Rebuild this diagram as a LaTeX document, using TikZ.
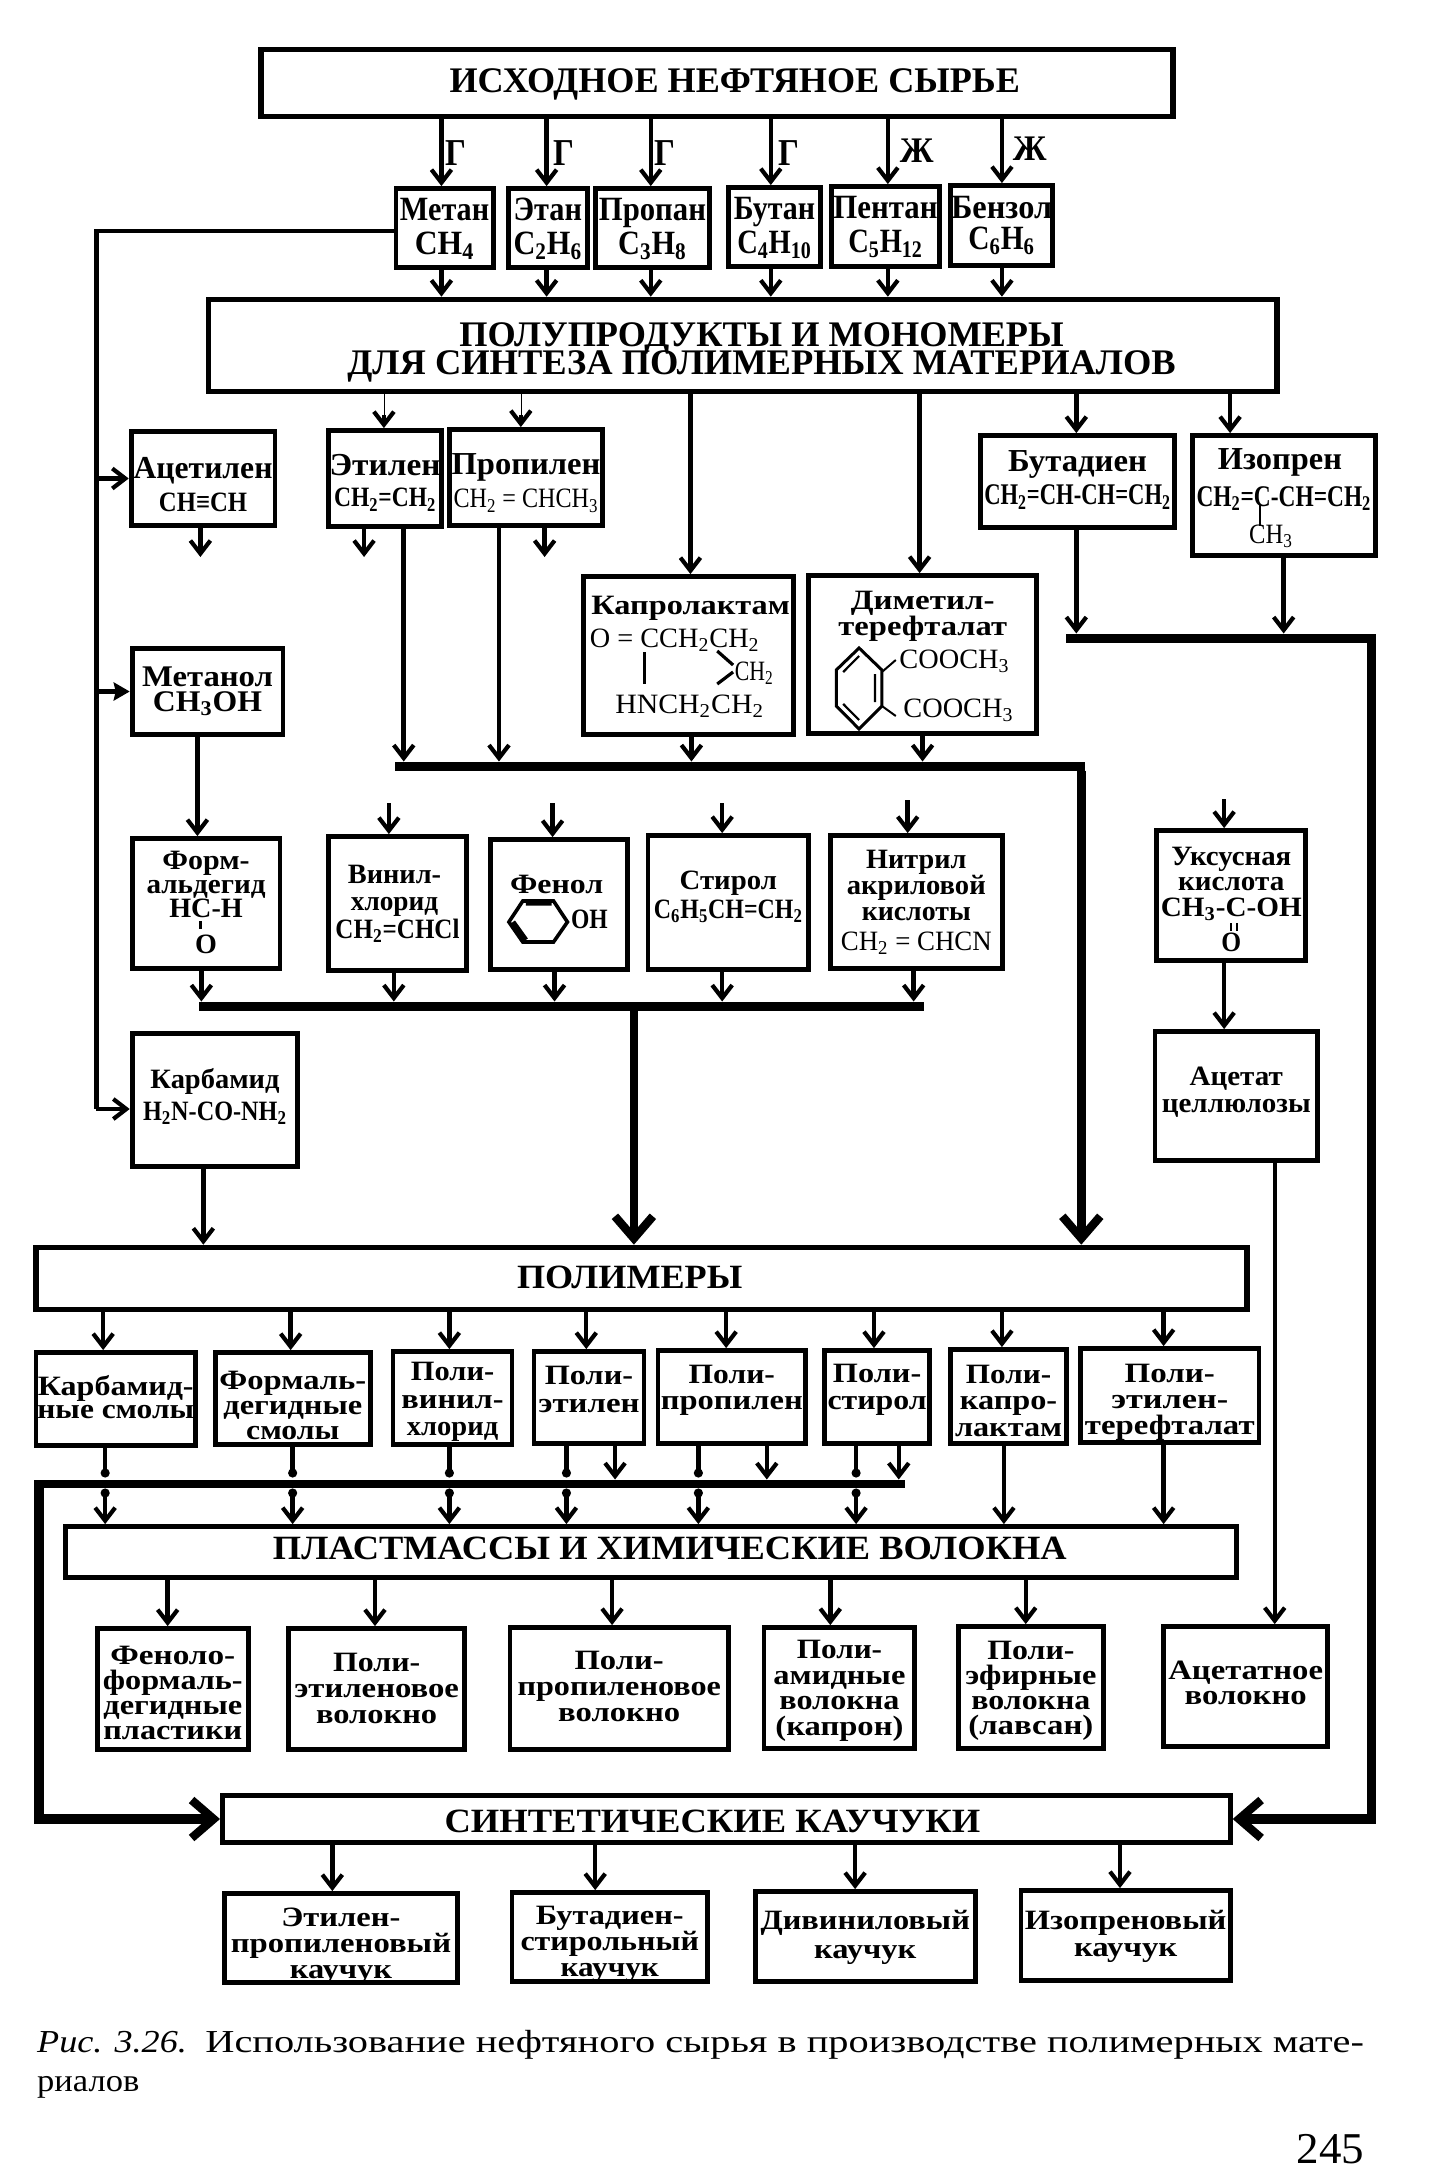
\documentclass[tikz,border=0pt]{standalone}
\usepackage{fontspec}
\usepackage{graphicx}
\setmainfont{Liberation Serif}
\usetikzlibrary{arrows.meta,calc}
\newdimen\pxu \pxu=.496pt
\newcommand\W[3][0]{\makebox[0pt][c]{\hspace{#1\pxu}\hspace{#1\pxu}\smash{\resizebox{#2\pxu}{\height}{#3}}}}
\newcommand\nm[1]{\fontsize{#1}{#1}\selectfont\mdseries}
\newcommand\bn[1]{\fontsize{#1}{#1}\selectfont\bfseries}
\newcommand\sbb[1]{\textsubscript{#1}}
\newcommand\blk[4]{\pgfmathsetmacro\bb{#2/2}\pgfmathsetmacro\rs{-.58*#1+.2*\bb-.5*#3}%
  \raisebox{\rs pt}[0pt][0pt]{\fontsize{#1}{\bb}\selectfont\bfseries\begin{tabular}{@{}c@{}}#4\end{tabular}}}
\def\parsebox#1,#2,#3,#4\relax{%
  \pgfmathsetmacro\cx{(#1+#3)/2+.7}\pgfmathsetmacro\cy{(#2+#4)/2}%
  \pgfmathsetmacro\bw{(#3-#1-1)*.496}\pgfmathsetmacro\bh{(#4-#2-1)/2}}
\newcommand\bx[7][]{\parsebox#3\relax
  \node[boxn,#1,minimum width=\bw pt,minimum height=\bh pt] (#2) at (\cx,\cy) {\blk{#4}{#5}{#6}{#7}};}
\newcommand\barn[2]{\parsebox#2\relax
  \node[barst,minimum width=\bw pt,minimum height=\bh pt] (#1) at (\cx,\cy) {};}
\newcommand\vc[4][arr]{\draw[#1] (#2,0 |- #3) -- (#2,0 |- #4);}
\tikzset{
  boxn/.style={draw=black,line width=2.4pt,inner sep=0pt,rectangle},
  big/.style={line width=2.8pt},
  barst/.style={fill=black,draw=none,inner sep=0pt,outer sep=0pt,rectangle},
  lbl/.style={inner sep=0pt,outer sep=0pt},
  arr/.style={line width=2.2pt,-{Straight Barb[length=6.5pt,width=10pt,line width=2.1pt]}},
  arrt/.style={line width=2.7pt,-{Straight Barb[length=6.5pt,width=10pt,line width=2.1pt]}},
  arrbig/.style={line width=4.2pt,-{Straight Barb[length=11pt,width=19pt,line width=4.2pt]}},
  arrsolid/.style={line width=2.4pt,-{Stealth[length=8pt,width=9pt,inset=1pt]}},
  seg/.style={line width=2.2pt},
  bond/.style={line width=1pt}
}
\begin{document}
\begin{tikzpicture}[x=.496pt,y=-.5pt]
\fill[white] (0,0) rectangle (1442.5,2177);
\useasboundingbox (0,0) rectangle (1442.5,2177);

% main bands
\bx[big]{top}{262,49,1182,117}{18}{30}{-3}{\W[18]{575}{ИСХОДНОЕ НЕФТЯНОЕ СЫРЬЕ}}
\bx[big]{polu}{209,299,1287,392}{18}{28}{3}{\W[19]{609}{ПОЛУПРОДУКТЫ И МОНОМЕРЫ}\\\W[19]{835}{ДЛЯ СИНТЕЗА ПОЛИМЕРНЫХ МАТЕРИАЛОВ}}
\bx[big]{polym}{35,1247,1257,1310}{17}{30}{-1}{\W[-12]{227}{ПОЛИМЕРЫ}}
\bx{plast}{65,1526,1246,1578}{17}{30}{-4}{\W[19]{800}{ПЛАСТМАССЫ И ХИМИЧЕСКИЕ ВОЛОКНА}}
\bx{synth}{223,1795,1240,1843}{17}{30}{2}{\W[-14]{540}{СИНТЕТИЧЕСКИЕ КАУЧУКИ}}

% labels on feed lines
\node[lbl] (g1) at (460,152) {\blk{19}{30}{0}{\W{21}{Г}}};
\node[lbl] (g2) at (568,152) {\blk{19}{30}{0}{\W{21}{Г}}};
\node[lbl] (g3) at (670,152) {\blk{19}{30}{0}{\W{21}{Г}}};
\node[lbl] (g4) at (795,152) {\blk{19}{30}{0}{\W{21}{Г}}};
\node[lbl] (zh1) at (924,150) {\blk{18}{30}{0}{\W{34}{Ж}}};
\node[lbl] (zh2) at (1038,148) {\blk{18}{30}{0}{\W{34}{Ж}}};

% hydrocarbons
\bx{metan}{398,188,497,268}{17}{34}{-2}{\W{90}{Метан}\\\W{60}{CH\sbb{4}}}
\bx{etan}{511,188,592,268}{17}{34}{-2}{\W{69}{Этан}\\\W{69}{C\sbb{2}H\sbb{6}}}
\bx{propan}{599,188,715,268}{17}{34}{-2}{\W{108}{Пропан}\\\W{69}{C\sbb{3}H\sbb{8}}}
\bx{butan}{733,187,827,267}{17}{34}{-2}{\W{82}{Бутан}\\\W{75}{C\sbb{4}H\sbb{10}}}
\bx{pentan}{837,186,947,267}{17}{34}{-2}{\W{105}{Пентан}\\\W{75}{C\sbb{5}H\sbb{12}}}
\bx{benzol}{957,185,1061,266}{17}{31}{-3}{\W{102}{Бензол}\\\W{67}{C\sbb{6}H\sbb{6}}}

% intermediates, upper row
\bx{acet}{131,431,277,526}{16}{33}{7}{\W{140}{Ацетилен}\\\W{89}{\bn{14}CH≡CH}}
\bx{etil}{330,430,445,527}{16}{31}{3}{\W{112}{Этилен}\\\W{103}{\bn{14}CH\sbb{2}=CH\sbb{2}}}
\bx{propil}{452,429,607,526}{16}{33}{4}{\W{150}{Пропилен}\\\W{146}{\nm{14}CH\sbb{2} = CHCH\sbb{3}}}
\bx{butad}{987,435,1184,528}{16}{33}{-3}{\W{140}{Бутадиен}\\\W{188}{\bn{15}CH\sbb{2}=CH-CH=CH\sbb{2}}}
\bx{izop}{1201,435,1386,556}{16}{37}{1}{\W[-4]{125}{Изопрен}\\\W{176}{\bn{15}CH\sbb{2}=C-CH=CH\sbb{2}}\\\W[-13]{44}{\nm{14}CH\sbb{3}}}

\bx{metanol}{132,648,285,735}{15}{25}{-3}{\W{132}{Метанол}\\\W{110}{CH\sbb{3}OH}}
\bx{kapro}{587,576,800,735}{14}{33}{-1}{\W[2]{200}{Капролактам}\\\W[-14]{171}{\nm{14}O = CCH\sbb{2}CH\sbb{2}}\\\W[66]{39}{\nm{14}CH\sbb{2}}\\\W[1]{150}{\nm{14}HNCH\sbb{2}CH\sbb{2}}}
\bx{dimet}{814,575,1045,734}{14}{26}{0}{\W{145}{Диметил-}\\\W{170}{терефталат}\\[3.5pt]\W[32]{111}{\nm{14}COOCH\sbb{3}}\\[11.5pt]\W[36]{111}{\nm{14}COOCH\sbb{3}}}

% monomers, lower row
\bx{formal}{132,838,282,969}{14}{24}{-1}{\W{88}{Форм-}\\\W{120}{альдегид}\\\W{74}{HC-H}\\[6pt]\W{22}{O}}
\bx{vinil}{330,836,470,971}{14}{27.5}{-2}{\W[-3]{94}{Винил-}\\\W[-3]{88}{хлорид}\\\W{125}{CH\sbb{2}=CHCl}}
\bx{fenol}{493,839,632,970}{14}{35}{-3}{\W[-2]{94}{Фенол}\\\W[31]{37}{OH}}
\bx{stirol}{652,835,815,970}{14}{29}{-8}{\W{98}{Стирол}\\\W{150}{C\sbb{6}H\sbb{5}CH=CH\sbb{2}}}
\bx{nitril}{836,835,1010,969}{14}{26}{-2}{\W{101}{Нитрил}\\\W{140}{акриловой}\\\W{110}{кислоты}\\[2pt]\W{152}{\nm{14}CH\sbb{2} = CHCN}}
\bx{uksus}{1165,830,1316,961}{14}{25.5}{4}{\W{121}{Уксусная}\\\W{107}{кислота}\\\W{142}{CH\sbb{3}-C-OH}\\[5pt]\W{20}{O}}
\bx{acetc}{1163,1031,1328,1161}{14}{27}{-6.5}{\W{94}{Ацетат}\\\W{150}{целлюлозы}}
\bx{karb}{132,1033,300,1167}{14}{32}{-5}{\W{130}{Карбамид}\\\W{145}{H\sbb{2}N-CO-NH\sbb{2}}}

% polymers
\bx{p1}{35,1352,197,1446}{14}{23}{-1}{\W{157}{Карбамид-}\\\W{158}{ные смолы}}
\bx{p2}{216,1352,373,1445}{14}{25}{6.5}{\W{148}{Формаль-}\\\W{140}{дегидные}\\\W{94}{смолы}}
\bx{p3}{395,1351,516,1445}{14}{27.5}{1}{\W{84}{Поли-}\\\W{103}{винил-}\\\W{92}{хлорид}}
\bx{p4}{537,1351,649,1444}{14}{28}{-8.5}{\W{89}{Поли-}\\\W{102}{этилен}}
\bx{p5}{662,1350,812,1444}{14}{26}{-10}{\W{87}{Поли-}\\\W{143}{пропилен}}
\bx{p6}{830,1350,937,1444}{14}{27}{-10.5}{\W{89}{Поли-}\\\W{100}{стирол}}
\bx{p7}{957,1349,1075,1444}{14}{26.5}{4}{\W{86}{Поли-}\\\W{98}{капро-}\\\W{108}{лактам}}
\bx{p8}{1088,1348,1269,1443}{14}{26}{3.5}{\W{91}{Поли-}\\\W{118}{этилен-}\\\W{171}{терефталат}}

% plastics and fibres
\bx{f1}{97,1628,250,1750}{14}{25}{3.5}{\W{126}{Феноло-}\\\W{141}{формаль-}\\\W{140}{дегидные}\\\W{140}{пластики}}
\bx{f2}{290,1628,468,1750}{14}{26}{-1}{\W{88}{Поли-}\\\W{166}{этиленовое}\\\W{122}{волокно}}
\bx{f3}{513,1627,734,1750}{14}{26}{-2.5}{\W{90}{Поли-}\\\W{205}{пропиленовое}\\\W{123}{волокно}}
\bx{f4}{769,1627,922,1749}{14}{25.7}{0}{\W{86}{Поли-}\\\W{133}{амидные}\\\W{121}{волокна}\\\W{129}{(капрон)}}
\bx{f5}{965,1626,1112,1749}{14}{25}{0}{\W{88}{Поли-}\\\W{132}{эфирные}\\\W{120}{волокна}\\\W{126}{(лавсан)}}
\bx{f6}{1172,1626,1338,1747}{14}{25}{-4}{\W{156}{Ацетатное}\\\W{123}{волокно}}

% rubbers
\bx{r1}{225,1893,461,1983}{14}{26}{5}{\W{120}{Этилен-}\\\W{222}{пропиленовый}\\\W{103}{каучук}}
\bx{r2}{515,1892,713,1982}{14}{26}{4}{\W{149}{Бутадиен-}\\\W{180}{стирольный}\\\W{99}{каучук}}
\bx{r3}{760,1891,983,1982}{14}{29}{-2}{\W{211}{Дивиниловый}\\\W{103}{каучук}}
\bx{r4}{1028,1890,1240,1981}{14}{27}{-2}{\W{203}{Изопреновый}\\\W{104}{каучук}}

% collector bars
\barn{barA}{397,761,1094,771}
\barn{barB}{199,1001,931,1011}
\barn{barC}{1073,633,1387,643}
\barn{barD}{33,1479,912,1488}

% crude to hydrocarbons to intermediates
\vc{445}{top.south}{metan.north}\vc{551}{top.south}{etan.north}\vc{656}{top.south}{propan.north}
\vc{777}{top.south}{butan.north}\vc{895}{top.south}{pentan.north}\vc{1010}{top.south}{benzol.north}
\vc{445}{metan.south}{polu.north}\vc{551}{etan.south}{polu.north}\vc{656}{propan.south}{polu.north}
\vc{777}{butan.south}{polu.north}\vc{895}{pentan.south}{polu.north}\vc{1010}{benzol.south}{polu.north}

% methane side line
\draw[seg,line width=2.4pt] (metan.west |- 0,231) -- (97,231) -- (97,1109);
\draw[arr] (97,0 |- acet.west) -- (acet.west);
\draw[arrsolid] (97,0 |- metanol.west) -- (metanol.west);
\draw[arr] (97,1109) -- (karb.west |- 0,1109);

% stubs below the band
\coordinate (e1) at (387,415); \coordinate (e2) at (525,415);
\draw[line width=.3pt] (387,0 |- polu.south) -- (e1);
\draw[line width=.3pt] (525,0 |- polu.south) -- (e2);
\draw[arr] (e1) -- (387,0 |- etil.north);
\draw[arr] (e2) -- (525,0 |- propil.north);
\vc{696}{polu.south}{kapro.north}\vc{927}{polu.south}{dimet.north}
\vc{1085}{polu.south}{butad.north}\vc{1240}{polu.south}{izop.north}
\coordinate (s1) at (202,557); \coordinate (s2) at (367,557); \coordinate (s3) at (549,557);
\draw[arr] (202,0 |- acet.south) -- (s1);
\draw[arr] (367,0 |- etil.south) -- (s2);
\draw[arr] (549,0 |- propil.south) -- (s3);

% into bar A, bar C
\vc[arrt]{407}{etil.south}{barA.north}\vc{503}{propil.south}{barA.north}
\vc{697}{kapro.south}{barA.north}\vc{930}{dimet.south}{barA.north}
\vc{1085}{butad.south}{barC.north}\vc{1294}{izop.south}{barC.north}

% free inflows of the monomer row
\coordinate (t1) at (392,803); \coordinate (t2) at (557,803); \coordinate (t3) at (728,803);
\coordinate (t4) at (915,800); \coordinate (t5) at (1234,799);
\draw[arr] (t1) -- (t1 |- vinil.north);
\draw[arr] (t2) -- (t2 |- fenol.north);
\draw[arr] (t3) -- (t3 |- stirol.north);
\draw[arr] (t4) -- (t4 |- nitril.north);
\draw[arr] (t5) -- (t5 |- uksus.north);

\vc{199}{metanol.south}{formal.north}
\vc{203}{formal.south}{barB.north}\vc{397}{vinil.south}{barB.north}\vc{559}{fenol.south}{barB.north}
\vc{728}{stirol.south}{barB.north}\vc{921}{nitril.south}{barB.north}
\vc{1234}{uksus.south}{acetc.north}
\vc{205}{karb.south}{polym.north}
\vc[arrbig]{639}{barB.south}{polym.north}
\vc[arrbig]{1090}{barA.south}{polym.north}

% polymers
\vc{104}{polym.south}{p1.north}\vc{293}{polym.south}{p2.north}\vc{453}{polym.south}{p3.north}
\vc{591}{polym.south}{p4.north}\vc{732}{polym.south}{p5.north}\vc{881}{polym.south}{p6.north}
\vc{1010}{polym.south}{p7.north}\vc{1173}{polym.south}{p8.north}

% through the bar: dot, gap, dot
\foreach \xx/\pp in {106/p1,295/p2,453/p3,571/p4,704/p5,863/p6}{
  \draw[seg] (\xx,0 |- \pp.south) -- (\xx,1473);
  \fill (\xx,1473) circle (2.3pt);
  \fill (\xx,1493) circle (2.3pt);
  \draw[arr] (\xx,1493) -- (\xx,0 |- plast.north);
}
\vc{620}{p4.south}{barD.north}\vc{773}{p5.south}{barD.north}\vc{906}{p6.south}{barD.north}
\vc{1012}{p7.south}{plast.north}\vc{1173}{p8.south}{plast.north}

% plastics row
\vc{169}{plast.south}{f1.north}\vc{378}{plast.south}{f2.north}\vc{617}{plast.south}{f3.north}
\vc{837}{plast.south}{f4.north}\vc{1034}{plast.south}{f5.north}
\vc{1285}{acetc.south}{f6.north}

% heavy lines to synthetic rubbers
\draw[arrbig,line width=4.8pt] (barD.west) ++(2.4pt,0) |- (synth.west);
\draw[arrbig,line width=4.8pt] (barC.east) ++(-2.4pt,0) |- (synth.east);
\vc{335}{synth.south}{r1.north}\vc{600}{synth.south}{r2.north}
\vc{862}{synth.south}{r3.north}\vc{1129}{synth.south}{r4.north}

% chemical drawings
\draw[bond] (1270,505) -- (1270,526);
\draw[line width=1.2pt] (202,921) -- (202,929);
\draw[line width=1pt] (1241,923) -- (1241,931) (1247,923) -- (1247,931);
\draw[line width=1.6pt] (650,652) -- (650,684);
\draw[line width=1.6pt] (723,651) -- (739,665) (739,672) -- (723,684);
% benzene of dimethyl terephthalate
\draw[line width=1.5pt] (866,648) -- (889,670) -- (889,706) -- (866,729) -- (843,706) -- (843,670) -- cycle;
\draw[line width=1.1pt] (850,672) -- (866,656) (882,674) -- (882,702) (850,704) -- (866,720);
\draw[line width=1pt] (889,672) -- (903,660) (889,706) -- (903,716);
% phenol ring
\draw[line width=1.8pt] (513,922) -- (527,901) -- (558,901) -- (572,922) -- (558,942) -- (527,942) -- cycle;
\draw[line width=2.6pt] (530,903) -- (556,903) (517,922) -- (530,940);

% caption and page number
\node[lbl] (cap1) at (113,2043) {\blk{16}{30}{0}{\W{151}{\mdseries\itshape Рис. 3.26.}}};
\node[lbl] (cap2) at (791,2043) {\blk{16}{30}{0}{\W{1168}{\mdseries Использование нефтяного сырья в производстве полимерных мате-}}};
\node[lbl] (cap3) at (89,2082) {\blk{16}{30}{0}{\W{103}{\mdseries риалов}}};
\node[lbl] (pg) at (1341,2148) {\blk{22}{30}{0}{\W{68}{\mdseries 245}}};
\end{tikzpicture}
\end{document}
